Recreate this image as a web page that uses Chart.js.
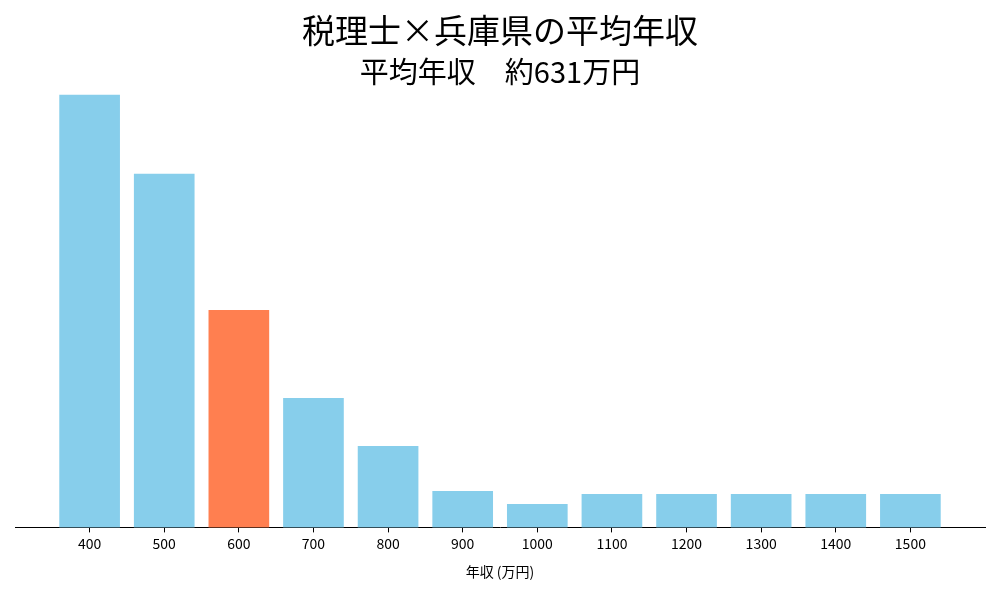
<!DOCTYPE html>
<html><head><meta charset="utf-8">
<script src="https://cdn.jsdelivr.net/npm/chart.js@4"></script>
<style>body{margin:0;background:#fff}#w{width:1000px;height:600px}</style>
</head><body><div id="w"><canvas id="c"></canvas></div>
<script>
const categories=[400,500,600,700,800,900,1000,1100,1200,1300,1400,1500];
const values=[432,353,217,129,81,36,23,33,33,33,33,33];
const highlight=600;
const title1='税理士×兵庫県の平均年収';
const title2='平均年収　約631万円';
const xLabel='年収 (万円)';
const F='"Noto Sans CJK JP","Noto Sans",sans-serif';
const titles={id:'t',afterDraw(ch){const c=ch.ctx;c.save();c.fillStyle='#000';c.textAlign='center';c.textBaseline='middle';
c.font='33px '+F;c.fillText(title1,500,30);c.font='29px '+F;c.fillText(title2,500,72);c.restore();}};
new Chart(document.getElementById('c'),{type:'bar',
data:{datasets:[{data:categories.map((x,i)=>({x:x,y:values[i]})),
backgroundColor:categories.map(x=>x===highlight?'#FF7F50':'#87CEEB'),barThickness:60}]},
options:{responsive:true,maintainAspectRatio:false,animation:false,
layout:{padding:{left:15,right:15,top:73,bottom:16}},
plugins:{legend:{display:false},tooltip:{enabled:false}},
scales:{x:{type:'linear',offset:false,min:300,max:1600,afterBuildTicks(a){a.ticks=categories.map(v=>({value:v}));},
grid:{drawOnChartArea:false,drawTicks:true,tickLength:5,color:'#000',offset:false},border:{color:'#000',width:1},
ticks:{color:'#000',font:{family:F,size:14},padding:3,autoSkip:false,callback:v=>String(v)},
title:{display:true,text:xLabel,color:'#000',font:{family:F,size:14},padding:{top:8}}},
y:{display:false,min:0,max:454}}},plugins:[titles]});
</script></body></html>
